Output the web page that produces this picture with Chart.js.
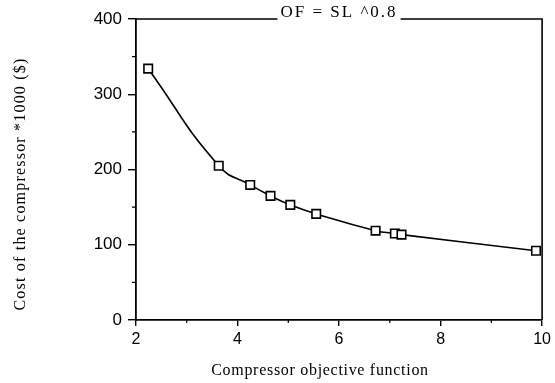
<!DOCTYPE html>
<html>
<head>
<meta charset="utf-8">
<script src="https://cdn.jsdelivr.net/npm/chart.js@4"></script>
<style>
  html, body { margin: 0; padding: 0; background: #fff; }
  #wrap { width: 555px; height: 383px; position: relative; }
</style>
</head>
<body>
<div id="wrap"><canvas id="c" width="555" height="383"></canvas></div>
<script>
// ---- data ----
const objectiveFunction = [2.24, 3.63, 4.25, 4.65, 5.04, 5.55, 6.72, 7.10, 7.23, 9.88];
const compressorCost   = [334, 205, 179.5, 165, 153, 141, 118.7, 115, 113.5, 92];
const xTickLabels = [2, 4, 6, 8, 10];
const yTickLabels = [0, 100, 200, 300, 400];
const xMinorTicks = [3, 5, 7, 9];
const yMinorTicks = [50, 150, 250, 350];
const chartTitle = 'OF = SL ^0.8';
const xTitle = 'Compressor objective function';
const yTitle = 'Cost of the compressor *1000 ($)';

const points = objectiveFunction.map((x, i) => ({ x: x, y: compressorCost[i] }));

const framePlugin = {
  id: 'frame',
  afterDraw(chart) {
    const ctx = chart.ctx;
    const a = chart.chartArea;
    const xs = chart.scales.x, ys = chart.scales.y;
    ctx.save();
    ctx.strokeStyle = '#000';
    ctx.fillStyle = '#000';
    ctx.lineWidth = 1.6;
    // title on top border
    ctx.font = '17px "Liberation Serif", "Times New Roman", serif';
    ctx.letterSpacing = '2px';
    ctx.textAlign = 'center';
    ctx.textBaseline = 'alphabetic';
    const cx = (a.left + a.right) / 2;
    const tw = ctx.measureText(chartTitle).width;
    ctx.fillText(chartTitle, cx, a.top - 2);
    ctx.beginPath();
    ctx.moveTo(a.left, a.top);
    ctx.lineTo(cx - tw / 2 - 3, a.top);
    ctx.moveTo(cx + tw / 2 + 3, a.top);
    ctx.lineTo(a.right, a.top);
    ctx.lineTo(a.right, a.bottom);
    ctx.stroke();
    // minor ticks
    ctx.lineWidth = 1.2;
    ctx.beginPath();
    yMinorTicks.forEach(v => {
      const py = ys.getPixelForValue(v);
      ctx.moveTo(a.left - 4, py); ctx.lineTo(a.left, py);
    });
    xMinorTicks.forEach(v => {
      const px = xs.getPixelForValue(v);
      ctx.moveTo(px, a.bottom); ctx.lineTo(px, a.bottom + 3);
    });
    ctx.stroke();
    // axis titles
    ctx.font = '16px "Liberation Serif", "Times New Roman", serif';
    ctx.textBaseline = 'middle';
    ctx.letterSpacing = '0.7px';
    ctx.fillText(xTitle, 320, 371);
    ctx.letterSpacing = '1.2px';
    ctx.translate(21, 184);
    ctx.rotate(-Math.PI / 2);
    ctx.fillText(yTitle, 0, 0);
    ctx.restore();
  }
};

new Chart(document.getElementById('c'), {
  type: 'scatter',
  data: {
    datasets: [{
      data: points,
      showLine: true,
      borderColor: '#000',
      borderWidth: 1.6,
      tension: 0.5,
      pointStyle: 'rect',
      pointRadius: 6,
      pointBorderWidth: 1.6,
      pointBorderColor: '#000',
      pointBackgroundColor: '#fff'
    }]
  },
  options: {
    responsive: false,
    animation: false,
    layout: { padding: { left: 0, right: 10, top: 19, bottom: 0 } },
    plugins: { legend: { display: false }, tooltip: { enabled: false }, title: { display: false } },
    scales: {
      x: {
        type: 'linear',
        min: 2, max: 10,
        afterBuildTicks(scale) { scale.ticks = xTickLabels.map(v => ({ value: v })); },
        afterFit(scale) { scale.height = 63; },
        ticks: { color: '#000', font: { family: '"Liberation Sans", Arial, sans-serif', size: 16 }, padding: 4, maxRotation: 0 },
        grid: { drawOnChartArea: false, drawTicks: true, tickLength: 6, color: '#000', lineWidth: 1.4 },
        border: { display: true, color: '#000', width: 1.8 }
      },
      y: {
        type: 'linear',
        min: 0, max: 400,
        afterBuildTicks(scale) { scale.ticks = yTickLabels.map(v => ({ value: v })); },
        afterFit(scale) { scale.width = 136; },
        ticks: { color: '#000', font: { family: '"Liberation Sans", Arial, sans-serif', size: 17 }, padding: 6 },
        grid: { drawOnChartArea: false, drawTicks: true, tickLength: 8, color: '#000', lineWidth: 1.4 },
        border: { display: true, color: '#000', width: 1.8 }
      }
    }
  },
  plugins: [framePlugin]
});
</script>
</body>
</html>
